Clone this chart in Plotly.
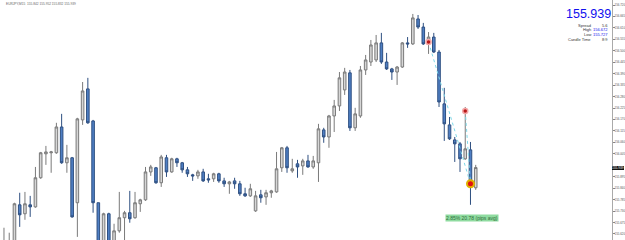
import plotly.graph_objects as go

# ---- data (EURJPY, M15) ----
opens = [155.544, 155.520, 155.554, 155.760, 155.717, 155.760, 155.750, 155.890, 156.005, 156.010,
         156.010, 156.134, 155.962, 155.986, 155.770, 156.168, 156.317, 156.163, 155.770, 155.544,
         155.717, 155.544, 155.635, 155.698, 155.722, 155.698, 155.765, 155.784, 155.918, 155.938,
         155.866, 155.986, 155.918, 155.981, 155.962, 155.928, 155.904, 155.899, 155.918, 155.885,
         155.885, 155.909, 155.875, 155.861, 155.875, 155.861, 155.813, 155.803, 155.731, 155.808,
         155.798, 155.818, 155.822, 155.938, 156.034, 155.923, 155.957, 155.947, 155.971, 155.942,
         155.962, 156.120, 156.086, 156.187, 156.235, 156.312, 156.394, 156.130, 156.187, 156.408,
         156.446, 156.456, 156.538, 156.446, 156.413, 156.398, 156.422, 156.538, 156.533, 156.653,
         156.614, 156.542, 156.566, 156.494, 156.245, 156.144, 156.072, 156.053, 155.981, 156.024,
         155.842]
highs = [155.650, 155.626, 155.770, 155.818, 155.822, 155.803, 155.942, 156.014, 156.043, 156.019,
         156.154, 156.197, 156.048, 155.990, 156.178, 156.350, 156.370, 156.168, 155.770, 155.722,
         155.722, 155.669, 155.822, 155.731, 155.827, 155.822, 155.789, 155.942, 155.952, 155.942,
         156.000, 156.000, 155.986, 155.986, 155.966, 155.942, 155.909, 155.928, 155.933, 155.909,
         155.914, 155.914, 155.890, 155.875, 155.890, 155.875, 155.842, 155.861, 155.827, 155.832,
         155.832, 155.832, 156.014, 156.038, 156.043, 155.981, 155.976, 155.981, 156.000, 155.995,
         156.149, 156.130, 156.192, 156.264, 156.398, 156.418, 156.408, 156.226, 156.427, 156.480,
         156.552, 156.576, 156.586, 156.490, 156.418, 156.427, 156.542, 156.566, 156.677, 156.672,
         156.634, 156.590, 156.586, 156.504, 156.322, 156.182, 156.086, 156.062, 156.230, 156.062,
         155.952]
lows = [155.520, 155.506, 155.544, 155.654, 155.688, 155.702, 155.746, 155.885, 155.952, 155.914,
        156.005, 155.957, 155.914, 155.698, 155.606, 156.144, 156.149, 155.722, 155.520, 155.520,
        155.520, 155.520, 155.626, 155.582, 155.674, 155.693, 155.726, 155.779, 155.899, 155.861,
        155.846, 155.894, 155.914, 155.942, 155.914, 155.894, 155.875, 155.885, 155.870, 155.866,
        155.870, 155.866, 155.846, 155.813, 155.837, 155.803, 155.798, 155.798, 155.726, 155.770,
        155.760, 155.794, 155.818, 155.918, 155.914, 155.914, 155.890, 155.904, 155.938, 155.933,
        155.870, 156.058, 156.034, 156.110, 156.211, 156.288, 156.115, 156.115, 156.178, 156.384,
        156.427, 156.446, 156.437, 156.408, 156.360, 156.336, 156.418, 156.514, 156.528, 156.605,
        156.528, 156.485, 156.490, 156.230, 156.067, 156.072, 155.966, 155.918, 155.976, 155.760,
        155.832]
closes = [155.582, 155.568, 155.765, 155.712, 155.765, 155.750, 155.890, 156.010, 156.014, 156.014,
          156.134, 155.962, 155.986, 155.702, 156.173, 156.307, 156.154, 155.770, 155.554, 155.717,
          155.544, 155.635, 155.698, 155.722, 155.693, 155.770, 155.784, 155.918, 155.942, 155.866,
          155.990, 155.918, 155.981, 155.962, 155.928, 155.909, 155.899, 155.918, 155.875, 155.880,
          155.909, 155.875, 155.861, 155.870, 155.861, 155.813, 155.803, 155.837, 155.803, 155.794,
          155.818, 155.827, 155.933, 156.034, 155.938, 155.933, 155.942, 155.971, 155.942, 155.971,
          156.125, 156.086, 156.187, 156.235, 156.370, 156.398, 156.130, 156.197, 156.408, 156.456,
          156.528, 156.538, 156.446, 156.413, 156.398, 156.422, 156.538, 156.533, 156.658, 156.614,
          156.533, 156.566, 156.494, 156.254, 156.149, 156.077, 156.053, 155.981, 156.029, 155.861,
          155.939]
bars = list(range(len(opens)))

# signal markers: (bar index, price)
sell_marks_x = [81, 88]
sell_marks_y = [156.542, 156.211]
target_x = [89]
target_y = [155.861]

# right price scale (155.950 is hidden under the current-price box)
tick_vals = [156.720, 156.665, 156.610, 156.555, 156.500, 156.445, 156.390, 156.335, 156.280,
             156.225, 156.170, 156.115, 156.060, 156.005, 155.895, 155.840, 155.785,
             155.730, 155.675, 155.620]
tick_text = ["156.720", "156.665", "156.610", "156.555", "156.500", "156.445", "156.390",
             "156.335", "156.280", "156.225", "156.170", "156.115", "156.060", "156.005",
             "155.895", "155.840", "155.785", "155.730", "155.675", "155.620"]

symbol_line = "EURJPY,M15  155.842 155.952 155.832 155.939"
last_price = 155.939
spread = "5.6"
day_high = "156.672"
day_low = "155.727"
candle_time = "8:9"
stats_text = "2.85% 20.78 (pips avg)"
stats_pos = (89.2, 155.695)

fig = go.Figure()
fig.add_trace(go.Candlestick(
    x=bars, open=opens, high=highs, low=lows, close=closes,
    increasing=dict(fillcolor="#d6d6d6", line=dict(color="#7a7a7a", width=1)),
    decreasing=dict(fillcolor="#4f7fc4", line=dict(color="#2e4f80", width=1)),
    whiskerwidth=0, showlegend=False, hoverinfo="skip"))

# dotted guide lines
for sx, sy in zip(sell_marks_x, sell_marks_y):
    fig.add_trace(go.Scatter(x=[sx, target_x[0]], y=[sy, target_y[0]], mode="lines",
                             line=dict(color="#7fd8e8", width=1, dash="dot"),
                             showlegend=False, hoverinfo="skip"))
fig.add_trace(go.Scatter(x=sell_marks_x, y=sell_marks_y, mode="markers",
                         marker=dict(size=5, color="#b81818",
                                     line=dict(color="#f4a8a8", width=1.5)),
                         showlegend=False, hoverinfo="skip"))
fig.add_trace(go.Scatter(x=target_x, y=target_y, mode="markers",
                         marker=dict(size=7, color="#e01010",
                                     line=dict(color="#e0b000", width=2)),
                         showlegend=False, hoverinfo="skip"))

fig.update_layout(
    width=625, height=240,
    margin=dict(l=0, r=13, t=0, b=0, autoexpand=False),
    paper_bgcolor="white", plot_bgcolor="white",
    font=dict(family="Arial, Liberation Sans, sans-serif"),
    xaxis=dict(range=[-0.76, 116.0], showgrid=False, zeroline=False, automargin=False,
               showticklabels=False, rangeslider=dict(visible=False), fixedrange=True),
    yaxis=dict(range=[155.591, 156.744], side="right", showgrid=False, zeroline=False,
               automargin=False,
               tickmode="array", tickvals=tick_vals, ticktext=tick_text,
               ticks="outside", ticklen=2, tickcolor="#888", tickwidth=1,
               ticklabelstandoff=-1,
               tickfont=dict(size=2.9, color="#555"),
               showline=True, linecolor="#aaaaaa", linewidth=1, fixedrange=True),
)

anns = [
    dict(xref="paper", yref="paper", x=0.008, y=0.997, xanchor="left", yanchor="top",
         text=symbol_line, showarrow=False, borderpad=0, font=dict(size=3.2, color="#666")),
    dict(xref="paper", yref="y", x=1.0, y=last_price, xanchor="left", yanchor="middle",
         text=f"{last_price:.3f}", showarrow=False, bgcolor="#111", borderpad=0,
         borderwidth=0, font=dict(size=3.2, color="white")),
    dict(x=stats_pos[0], y=stats_pos[1], xref="x", yref="y", text=stats_text,
         showarrow=False, bgcolor="#8fdba0", borderpad=0,
         font=dict(size=5, color="#2f6f3a")),
]
# info panel
anns.append(dict(xref="paper", yref="paper", x=1.0, y=1 - 22.5 / 240, xanchor="right",
                 yanchor="bottom", text=f"{last_price:.3f}", showarrow=False, borderpad=0,
                 font=dict(size=12.5, color="#1010ee")))
panel = [("Spread", spread, "#333", 25.2), ("High", day_high, "#1010ee", 29.9),
         ("Low", day_low, "#1010ee", 34.6), ("Candle Time", candle_time, "#333", 39.3)]
for lab, val, col, ypx in panel:
    anns.append(dict(xref="paper", yref="paper", x=592 / 612, y=1 - ypx / 240,
                     xanchor="right", yanchor="middle", text=lab, showarrow=False,
                     borderpad=0, font=dict(size=4, color="#333")))
    anns.append(dict(xref="paper", yref="paper", x=609 / 612, y=1 - ypx / 240,
                     xanchor="right", yanchor="middle", text=val, showarrow=False,
                     borderpad=0, font=dict(size=4, color=col)))
fig.update_layout(annotations=anns)

fig.write_html("out.html")
